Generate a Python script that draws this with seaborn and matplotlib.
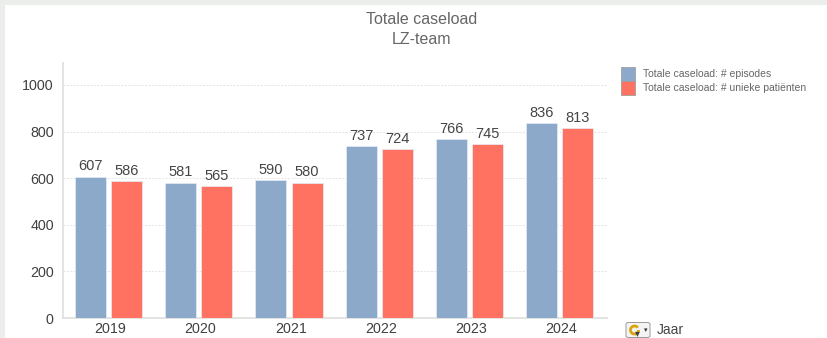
import matplotlib
matplotlib.use("Agg")
import matplotlib.pyplot as plt
from matplotlib.patches import Rectangle, FancyBboxPatch, Arc
from matplotlib.transforms import ScaledTranslation
import pandas as pd
import seaborn as sns

years = ["2019", "2020", "2021", "2022", "2023", "2024"]
episodes = [607, 581, 590, 737, 766, 836]
patients = [586, 565, 580, 724, 745, 813]
series_names = ["Totale caseload: # episodes", "Totale caseload: # unieke patiënten"]
series_colors = ["#8CA9CA", "#FF7262"]
y_ticks = [0, 200, 400, 600, 800, 1000]

sns.set_theme(style="white")
plt.rcParams["font.family"] = ["Liberation Sans", "DejaVu Sans"]

W, H = 827, 338
fig = plt.figure(figsize=(W / 100, H / 100), dpi=100, facecolor="white")

# window frame along the top and left edges
for x0, y0, w, h in [(0, 333 / H, 1, 5 / H), (0, 0, 5 / W, 1)]:
    fig.add_artist(Rectangle((x0, y0), w, h, transform=fig.transFigure,
                             facecolor="#ECEEEC", edgecolor="none"))

ax = fig.add_axes([63.5 / W, (H - 318) / H, (606.5 - 63.5) / W, (318 - 63) / H])

table = pd.DataFrame({
    "Jaar": years * 2,
    "Waarde": episodes + patients,
    "Reeks": [series_names[0]] * 6 + [series_names[1]] * 6,
})
sns.barplot(data=table, x="Jaar", y="Waarde", hue="Reeks", order=years,
            hue_order=series_names, palette=series_colors, saturation=1,
            width=0.8, gap=0.14, legend=False, ax=ax, zorder=3,
            edgecolor="#E6EEF7", linewidth=0.5)

for container in ax.containers:
    ax.bar_label(container, padding=2.5, fontsize=10.5, color="#454545")

ax.set_xlim(-0.5, 5.52)
ax.set_ylim(0, 1094)
ax.set_yticks(y_ticks)
ax.set_xlabel("")
ax.set_ylabel("")
ax.tick_params(axis="both", length=0, labelsize=10.3, labelcolor="#404040")
ax.tick_params(axis="x", pad=3)
ax.tick_params(axis="y", pad=7)
# year labels sit slightly right of the group centres
shift = ScaledTranslation(1.8 / 100, 0, fig.dpi_scale_trans)
for label in ax.get_xticklabels():
    label.set_transform(label.get_transform() + shift)
ax.grid(axis="y", color="#E4E4E4", linestyle=(0, (2, 1.5)), linewidth=0.7, zorder=0)
ax.set_axisbelow(True)
for side in ("top", "right"):
    ax.spines[side].set_visible(False)
for side in ("left", "bottom"):
    ax.spines[side].set_color("#DEDEDE")
    ax.spines[side].set_linewidth(1.2)

fig.text(421.5 / W, 1 - 20 / H, "Totale caseload", ha="center", va="center",
         fontsize=11.5, color="#666666")
fig.text(421.5 / W, 1 - 40 / H, "LZ-team", ha="center", va="center",
         fontsize=11.5, color="#666666")

# legend swatches and labels
for i, (name, color) in enumerate(zip(series_names, series_colors)):
    top = 67 + i * 14
    fig.add_artist(Rectangle((621 / W, 1 - (top + 14) / H), 14 / W, 14 / H,
                             transform=fig.transFigure, facecolor=color,
                             edgecolor="#A0A0A0", linewidth=0.6))
    fig.text(643 / W, 1 - (top + 6.8) / H, name, ha="left", va="center",
             fontsize=7.5, color="#666666")

# cycle-dimension button next to the field name
fig.add_artist(FancyBboxPatch((626 / W, 1 - 337.5 / H), 24 / W, 15 / H,
                              boxstyle="round,pad=0,rounding_size=0.004",
                              transform=fig.transFigure, facecolor="#F4F4F4",
                              edgecolor="#9A9A9A", linewidth=0.7))
fig.add_artist(Arc((634.5 / W, 1 - 330 / H), 8 / W, 8 / H, theta1=60, theta2=360,
                   transform=fig.transFigure, edgecolor="#D9A410", linewidth=2))
fig.text(637 / W, 1 - 333 / H, "▾", ha="center", va="center", fontsize=7,
         color="#404040", family=["DejaVu Sans"])
fig.text(645.5 / W, 1 - 330.5 / H, "▾", ha="center", va="center", fontsize=5,
         color="#303030", family=["DejaVu Sans"])
fig.text(657 / W, 1 - 329.5 / H, "Jaar", ha="left", va="center",
         fontsize=10, color="#454545")

fig.savefig("out.png", dpi=100)
